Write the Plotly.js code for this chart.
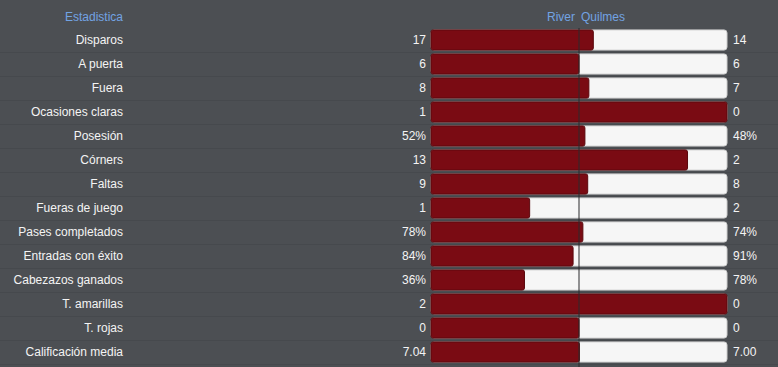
<!DOCTYPE html>
<html>
<head>
<meta charset="utf-8">
<script src="https://cdn.plot.ly/plotly-3.0.1.min.js"></script>
<style>
  html, body { margin: 0; padding: 0; background: #4c4f53; }
  #chart { width: 778px; height: 367px; }
</style>
</head>
<body>
<div id="chart"></div>
<script>
// ---- data ----
const stats = ["Disparos", "A puerta", "Fuera", "Ocasiones claras", "Posesión", "Córners", "Faltas",
  "Fueras de juego", "Pases completados", "Entradas con éxito", "Cabezazos ganados",
  "T. amarillas", "T. rojas", "Calificación media"];
const riverVals   = [17, 6, 8, 1, 52, 13, 9, 1, 78, 84, 36, 2, 0, 7.04];
const quilmesVals = [14, 6, 7, 0, 48, 2, 8, 2, 74, 91, 78, 0, 0, 7.00];
const riverLabels   = ["17", "6", "8", "1", "52%", "13", "9", "1", "78%", "84%", "36%", "2", "0", "7.04"];
const quilmesLabels = ["14", "6", "7", "0", "48%", "2", "8", "2", "74%", "91%", "78%", "0", "0", "7.00"];
const headerStat = "Estadistica";
const homeTeam = "River";
const awayTeam = "Quilmes";

// ---- derived ----
const idx = stats.map((_, i) => i);
const share = riverVals.map((r, i) => {
  const t = r + quilmesVals[i];
  return t === 0 ? 0.5 : r / t;
});
const full = stats.map(() => 1);

const W = 778, H = 367, TOP = 28;
const barL = 431, barR = 727;
const barW = barR - barL;
const xMin = -barL / barW, xMax = 1 + (W - barR) / barW;
const bg = "#4c4f53";
const txt = "#f4f4f4";
const hdr = "#72a3e3";
const font = { family: "Liberation Sans, Arial, sans-serif", size: 12, color: txt };

const traces = [
  {
    type: "bar", orientation: "h", y: idx, x: full, base: 0, width: 0.84,
    marker: { color: "#f6f6f6", line: { color: "#cfcfcf", width: 1 }, cornerradius: 3 },
    hoverinfo: "skip", showlegend: false
  },
  {
    type: "bar", orientation: "h", y: idx, x: share, base: 0, width: 0.84,
    marker: { color: "#7a0b13", line: { color: "#5a080d", width: 1 }, cornerradius: 2 },
    hoverinfo: "skip", showlegend: false
  },
  // invisible helpers for overlay axes
  { type: "scatter", mode: "markers", x: [0], y: [0], yaxis: "y2", marker: { opacity: 0 }, hoverinfo: "skip", showlegend: false },
  { type: "scatter", mode: "markers", x: [0], y: [0], yaxis: "y3", marker: { opacity: 0 }, hoverinfo: "skip", showlegend: false }
];

const yRange = [13.5 + (H - TOP - 14 * 24) / 24, -0.5];
const sepVals = [];
for (let i = -0.5; i <= 13.5; i += 1) sepVals.push(i);

const layout = {
  width: W, height: H,
  margin: { l: 0, r: 0, t: TOP, b: 0, pad: 0 },
  paper_bgcolor: bg, plot_bgcolor: bg,
  font: font,
  barmode: "overlay",
  xaxis: {
    range: [xMin, xMax], fixedrange: true,
    showticklabels: false, ticks: "", showgrid: false,
    zeroline: false, showline: false
  },
  yaxis: {
    range: yRange, anchor: "free", position: barL / W,
    tickmode: "array", tickvals: idx, ticktext: riverLabels,
    ticks: "", ticklabelstandoff: 5, showgrid: false, zeroline: false, showline: false,
    tickfont: font,
    minor: { tickmode: "array", tickvals: sepVals, showgrid: true, gridcolor: "#46494d", gridwidth: 1, ticks: "" }
  },
  yaxis2: {
    range: yRange, overlaying: "y", anchor: "free", position: 124 / W, side: "left",
    tickmode: "array", tickvals: idx, ticktext: stats,
    ticks: "", ticklabelstandoff: 1, showgrid: false, zeroline: false, showline: false,
    tickfont: font
  },
  yaxis3: {
    range: yRange, overlaying: "y", anchor: "free", position: barR / W, side: "right",
    tickmode: "array", tickvals: idx, ticktext: quilmesLabels,
    ticks: "", ticklabelstandoff: 5, showgrid: false, zeroline: false, showline: false,
    tickfont: font
  },
  shapes: [
    { type: "line", xref: "x", x0: 0.5, x1: 0.5, yref: "paper", y0: 0, y1: 1,
      line: { color: "#2a2a2c", width: 1 }, layer: "above" }
  ],
  annotations: [
    { text: headerStat, xref: "paper", x: 124 / W, xanchor: "right", yref: "paper", y: 1 + 11 / (H - TOP), yanchor: "middle",
      showarrow: false, font: { family: font.family, size: 12, color: hdr }, borderpad: 0 },
    { text: homeTeam, xref: "x", x: 0.5, xanchor: "right", xshift: -3, yref: "paper", y: 1 + 11 / (H - TOP), yanchor: "middle",
      showarrow: false, font: { family: font.family, size: 12, color: hdr }, borderpad: 0 },
    { text: awayTeam, xref: "x", x: 0.5, xanchor: "left", xshift: 1, yref: "paper", y: 1 + 11 / (H - TOP), yanchor: "middle",
      showarrow: false, font: { family: font.family, size: 12, color: hdr }, borderpad: 0 }
  ]
};

Plotly.newPlot("chart", traces, layout, { displayModeBar: false, staticPlot: true });
</script>
</body>
</html>
